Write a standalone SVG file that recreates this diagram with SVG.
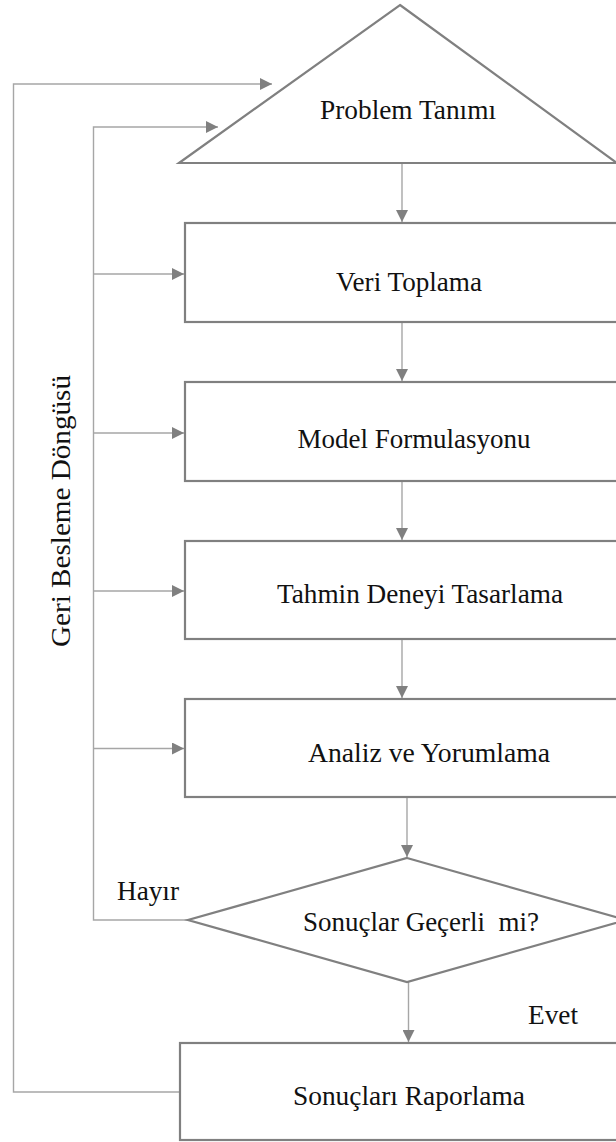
<svg xmlns="http://www.w3.org/2000/svg" width="616" height="1142" viewBox="0 0 616 1142">
<style>
.node{fill:#fff;stroke:#808080;stroke-width:2.2}
.edge{fill:none;stroke:#a6a6a6;stroke-width:1.4}
.lbl{font-family:"Liberation Serif","Times New Roman",serif;font-size:27px;fill:#111;text-anchor:middle}
</style>
<defs>
<marker id="ah" markerUnits="userSpaceOnUse" markerWidth="12" markerHeight="12" refX="12" refY="6" orient="auto">
<path d="M0,0 L12,6 L0,12 z" fill="#808080"/>
</marker>
</defs>
<rect width="616" height="1142" fill="#fff"/>
<g id="connectors">
<path class="edge" d="M402,163 V222" marker-end="url(#ah)"/>
<path class="edge" d="M402,322 V381" marker-end="url(#ah)"/>
<path class="edge" d="M402,481 V540" marker-end="url(#ah)"/>
<path class="edge" d="M402,639 V698" marker-end="url(#ah)"/>
<path class="edge" d="M407,797 V857" marker-end="url(#ah)"/>
<path class="edge" d="M408.5,982 V1042" marker-end="url(#ah)"/>
<path class="edge" d="M188,920 H93.5 V127 H218" marker-end="url(#ah)"/>
<path class="edge" d="M93.5,274 H184" marker-end="url(#ah)"/>
<path class="edge" d="M93.5,433 H184" marker-end="url(#ah)"/>
<path class="edge" d="M93.5,591 H184" marker-end="url(#ah)"/>
<path class="edge" d="M93.5,748.5 H184" marker-end="url(#ah)"/>
<path class="edge" d="M180,1092 H13.5 V84 H272" marker-end="url(#ah)"/>
</g>
<g id="problem">
<polygon class="node" points="400,5 617,163 179,163"/>
<text class="lbl" x="408" y="119" textLength="176" lengthAdjust="spacingAndGlyphs">Problem Tanımı</text>
</g>
<g id="veri">
<rect class="node" x="185" y="223" width="460" height="99"/>
<text class="lbl" x="409" y="291" textLength="146" lengthAdjust="spacingAndGlyphs">Veri Toplama</text>
</g>
<g id="model">
<rect class="node" x="185" y="382" width="460" height="99"/>
<text class="lbl" x="414" y="448" textLength="233" lengthAdjust="spacingAndGlyphs">Model Formulasyonu</text>
</g>
<g id="tahmin">
<rect class="node" x="185" y="541" width="460" height="98"/>
<text class="lbl" x="420" y="603" textLength="286" lengthAdjust="spacingAndGlyphs">Tahmin Deneyi Tasarlama</text>
</g>
<g id="analiz">
<rect class="node" x="185" y="699" width="460" height="98"/>
<text class="lbl" x="429" y="762" textLength="242" lengthAdjust="spacingAndGlyphs">Analiz ve Yorumlama</text>
</g>
<g id="karar">
<polygon class="node" points="407,858 626,920 407,982 188,920"/>
<text class="lbl" x="421" y="931" textLength="236" lengthAdjust="spacingAndGlyphs" xml:space="preserve">Sonuçlar Geçerli  mi?</text>
</g>
<g id="rapor">
<rect class="node" x="180" y="1043" width="460" height="97"/>
<text class="lbl" x="409" y="1105" textLength="232" lengthAdjust="spacingAndGlyphs">Sonuçları Raporlama</text>
</g>
<g id="labels">
<text class="lbl" x="148" y="900" textLength="62" lengthAdjust="spacingAndGlyphs">Hayır</text>
<text class="lbl" x="553" y="1024" textLength="50" lengthAdjust="spacingAndGlyphs">Evet</text>
<text class="lbl" transform="translate(70,511) rotate(-90)" x="0" y="0" textLength="272" lengthAdjust="spacingAndGlyphs">Geri Besleme Döngüsü</text>
</g>
</svg>
